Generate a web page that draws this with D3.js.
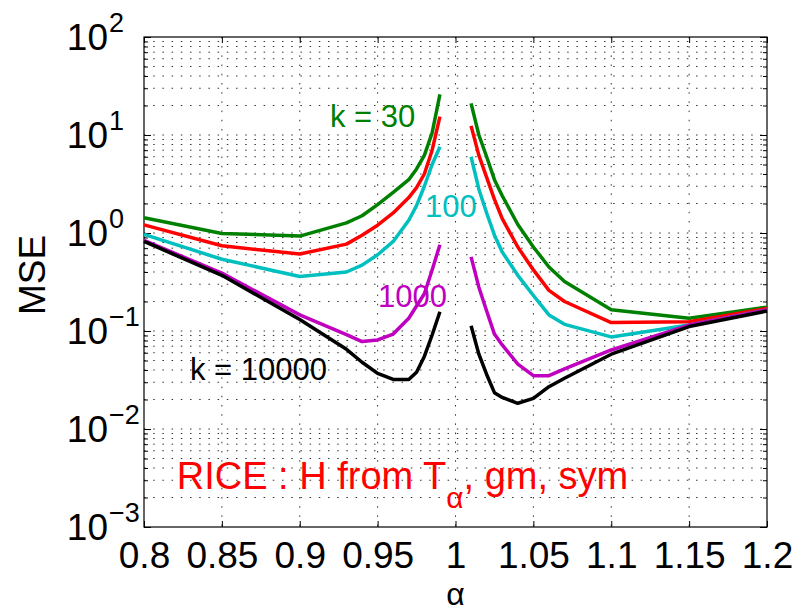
<!DOCTYPE html>
<html>
<head>
<meta charset="utf-8">
<script src="https://cdn.jsdelivr.net/npm/d3@7"></script>
<style>
  body { margin: 0; background: #fff; }
  text { font-family: "Liberation Sans", Arial, Helvetica, sans-serif; }
</style>
</head>
<body>
<div id="chart"></div>
<script>
// alpha values (1.0 is a gap in every curve)
var alpha = [0.8, 0.85, 0.9, 0.93, 0.94, 0.95, 0.96, 0.97, 0.975, 0.98, 0.985, 0.99,
             1.0,
             1.01, 1.015, 1.02, 1.025, 1.03, 1.04, 1.05, 1.06, 1.07, 1.1, 1.15, 1.2];

// MSE per k
var mseK30    = [1.43, 0.99, 0.93, 1.27, 1.5, 1.95, 2.6, 3.5, 4.5, 6.2, 10.5, 26,
                 null,
                 21, 10, 6.0, 3.5, 2.4, 1.22, 0.72, 0.45, 0.32, 0.165, 0.135, 0.175];
var mseRed    = [1.21, 0.74, 0.61, 0.77, 0.95, 1.2, 1.6, 2.3, 2.9, 4.0, 7.0, 15.4,
                 null,
                 12.4, 6.2, 3.7, 2.2, 1.4, 0.72, 0.42, 0.26, 0.2, 0.122, 0.124, 0.17];
var mseK100   = [0.97, 0.54, 0.36, 0.40, 0.47, 0.6, 0.82, 1.35, 1.9, 3.0, 5.0, 7.6,
                 null,
                 6.0, 2.8, 1.6, 0.95, 0.64, 0.37, 0.23, 0.146, 0.117, 0.087, 0.115, 0.164];
var mseK1000  = [0.84, 0.39, 0.146, 0.092, 0.078, 0.081, 0.093, 0.135, 0.18, 0.24, 0.42, 0.76,
                 null,
                 0.57, 0.28, 0.16, 0.093, 0.072, 0.046, 0.035, 0.035, 0.041, 0.064, 0.115, 0.164];
var mseK10000 = [0.82, 0.37, 0.131, 0.065, 0.048, 0.037, 0.032, 0.032, 0.038, 0.055, 0.091, 0.157,
                 null,
                 0.113, 0.058, 0.036, 0.0235, 0.021, 0.0183, 0.0205, 0.027, 0.033, 0.058, 0.111, 0.16];

var seriesColors = ["#008000", "#ff0000", "#00bfbf", "#bf00bf", "#000000"];
var xTicks = [0.8, 0.85, 0.9, 0.95, 1, 1.05, 1.1, 1.15, 1.2];
var yDecades = [-3, -2, -1, 0, 1, 2];

var margin = {top: 37, right: 34, bottom: 86, left: 144},
    width = 801 - margin.left - margin.right,
    height = 613 - margin.top - margin.bottom;

var svg = d3.select("#chart")
  .append("svg")
    .attr("width", 801)
    .attr("height", 613)
  .append("g")
    .attr("transform", "translate(" + margin.left + "," + margin.top + ")");

var x = d3.scaleLinear().domain([0.8, 1.2]).range([0, width]);
var y = d3.scaleLog().domain([1e-3, 1e2]).range([height, 0]);

// grid: every minor/major decade step, dotted
var yGrid = [];
for (var e = -3; e < 2; e++) {
  for (var m = 1; m <= 9; m++) yGrid.push(m * Math.pow(10, e));
}
yGrid.push(100);

svg.append("g").selectAll("line")
  .data(yGrid.filter(function(v) { return v > 1e-3 && v < 100; }))
  .enter().append("line")
    .attr("x1", 0).attr("x2", width)
    .attr("y1", function(d) { return y(d); })
    .attr("y2", function(d) { return y(d); })
    .attr("stroke", "#333")
    .attr("stroke-width", 1)
    .attr("stroke-dasharray", "1.5,7.7");

svg.append("g").selectAll("line")
  .data(xTicks.slice(1, -1))
  .enter().append("line")
    .attr("x1", function(d) { return x(d); })
    .attr("x2", function(d) { return x(d); })
    .attr("y1", 0).attr("y2", height)
    .attr("stroke", "#333")
    .attr("stroke-width", 1)
    .attr("stroke-dasharray", "1.5,7.7");

// axes, ticks pointing inward like matlab
var xAxis = svg.append("g")
  .attr("transform", "translate(0," + height + ")")
  .call(d3.axisBottom(x).tickValues(xTicks).tickSize(-6).tickPadding(15)
        .tickFormat(function(d) { return String(d); }));
xAxis.selectAll("text").attr("font-size", "37px").attr("fill", "#000");

svg.append("g")
  .call(d3.axisTop(x).tickValues(xTicks).tickSize(-6).tickFormat(""));

var majorY = yDecades.map(function(p) { return Math.pow(10, p); });
svg.append("g")
  .call(d3.axisLeft(y).tickValues(majorY).tickSize(-7).tickFormat(""));
svg.append("g")
  .attr("transform", "translate(" + width + ",0)")
  .call(d3.axisRight(y).tickValues(majorY).tickSize(-7).tickFormat(""));

var minorY = yGrid.filter(function(v) { return majorY.indexOf(v) < 0; });
svg.append("g")
  .call(d3.axisLeft(y).tickValues(minorY).tickSize(-4).tickFormat(""));
svg.append("g")
  .attr("transform", "translate(" + width + ",0)")
  .call(d3.axisRight(y).tickValues(minorY).tickSize(-4).tickFormat(""));

svg.selectAll(".domain").remove();
svg.selectAll(".tick line").attr("stroke", "#000");

svg.append("rect")
  .attr("width", width).attr("height", height)
  .attr("fill", "none").attr("stroke", "#000").attr("stroke-width", 1.2);

// y tick labels 10^n: base ends at a fixed x, exponent follows
var yLab = svg.append("g").selectAll("g")
  .data(yDecades)
  .enter().append("g")
    .attr("transform", function(d) { return "translate(-36," + (y(Math.pow(10, d)) + 13) + ")"; });
yLab.append("text")
  .attr("text-anchor", "end")
  .attr("font-size", "37px")
  .text("10");
yLab.append("text")
  .attr("x", 1)
  .attr("y", -18)
  .attr("font-size", "27px")
  .text(function(d) { return String(d).replace("-", "\u2212"); });

// lines
var allSeries = [mseK30, mseRed, mseK100, mseK1000, mseK10000];
var line = d3.line()
  .defined(function(d) { return d[1] != null; })
  .x(function(d) { return x(d[0]); })
  .y(function(d) { return y(d[1]); });

svg.append("g").selectAll("path")
  .data(allSeries)
  .enter().append("path")
    .attr("fill", "none")
    .attr("stroke", function(d, i) { return seriesColors[i]; })
    .attr("stroke-width", 3.5)
    .attr("stroke-linejoin", "round")
    .attr("d", function(s) { return line(alpha.map(function(a, i) { return [a, s[i]]; })); });

// in-plot labels
var notes = [
  {t: "k = 30", a: 0.9194, v: 12.2, c: seriesColors[0]},
  {t: "100", a: 0.9804, v: 1.47, c: seriesColors[2]},
  {t: "1000", a: 0.9502, v: 0.177, c: seriesColors[3]},
  {t: "k = 10000", a: 0.8295, v: 0.0316, c: seriesColors[4]}
];
svg.append("g").selectAll("text")
  .data(notes)
  .enter().append("text")
    .attr("x", function(d) { return x(d.a); })
    .attr("y", function(d) { return y(d.v); })
    .attr("font-size", "31px")
    .attr("fill", function(d) { return d.c; })
    .text(function(d) { return d.t; });

var rice = svg.append("text")
  .attr("x", x(0.821))
  .attr("y", y(0.00243))
  .attr("font-size", "38px")
  .attr("fill", "#ff0000");
rice.append("tspan").text("RICE : H from T");
rice.append("tspan").attr("dy", 19).attr("font-size", "30px").text("\u03b1");
rice.append("tspan").attr("dy", -19).text(", gm, sym");

// axis titles
svg.append("text")
  .attr("x", width / 2)
  .attr("y", height + 78)
  .attr("text-anchor", "middle")
  .attr("font-family", "'Liberation Serif', serif")
  .attr("font-size", "32px")
  .text("\u03b1");

svg.append("text")
  .attr("transform", "translate(" + (45 - margin.left) + "," + (275 - margin.top) + ") rotate(-90)")
  .attr("text-anchor", "middle")
  .attr("font-size", "37px")
  .text("MSE");
</script>
</body>
</html>
